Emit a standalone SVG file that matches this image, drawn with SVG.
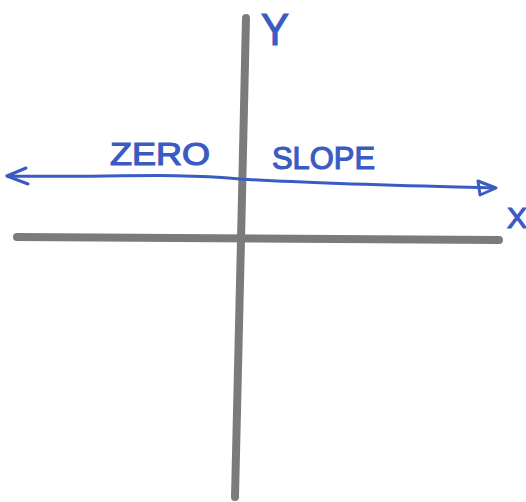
<svg xmlns="http://www.w3.org/2000/svg" width="526" height="502" viewBox="0 0 526 502">
<style>
.axis{stroke:#7a7c7b;stroke-width:8;stroke-linecap:round;fill:none}
.blue{stroke:#3a5cc2;stroke-width:3;fill:none;stroke-linecap:round;stroke-linejoin:round}
.lbl{font-family:"Liberation Sans",Arial,sans-serif;fill:#3a5cc2;stroke:#3a5cc2;stroke-width:1.2;font-weight:normal}
</style>
<rect width="526" height="502" fill="#ffffff"/>
<g id="axes">
<path id="x-axis" class="axis" d="M17,237 L499,240"/>
<path id="y-axis" class="axis" d="M246,18 L241,240 L235,497"/>
</g>
<g id="connectors">
<path class="blue" d="M7,176 C100,178 170,172 240,179 C320,184 420,186 494,188"/>
<path class="blue" d="M26,168 L7,176 L28,184"/>
<path class="blue" d="M478,181 L496,188 L480,195 Z" fill="#3a5cc2"/>
</g>
<g id="labels">
<text class="lbl" x="110" y="165" font-size="32" textLength="100" lengthAdjust="spacingAndGlyphs">ZERO</text>
<text class="lbl" x="272" y="169" font-size="32" textLength="103" lengthAdjust="spacingAndGlyphs">SLOPE</text>
<text class="lbl" x="261" y="45" font-size="44" textLength="28" lengthAdjust="spacingAndGlyphs">Y</text>
<text class="lbl" x="507" y="228" font-size="30">X</text>
</g>
</svg>
